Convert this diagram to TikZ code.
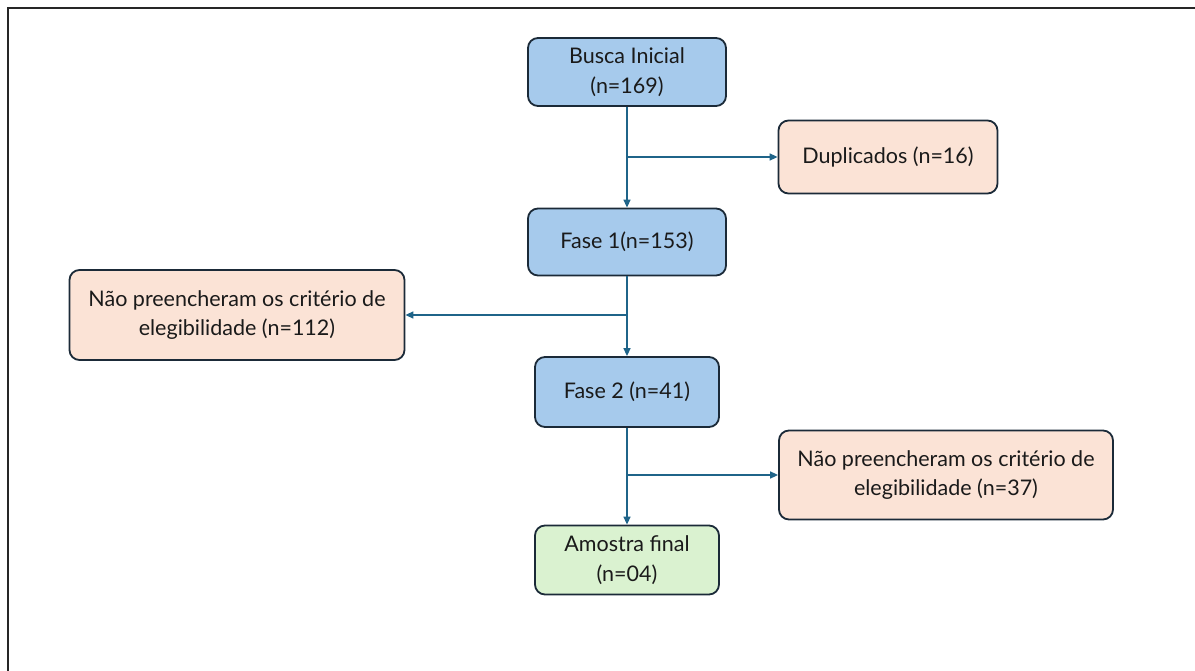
\documentclass[tikz,border=0pt]{standalone}
\usepackage{fontspec}
\setmainfont{Lato}
\usetikzlibrary{arrows.meta}
\definecolor{bluefill}{HTML}{A6CAEC}
\definecolor{peachfill}{HTML}{FBE3D6}
\definecolor{greenfill}{HTML}{DAF2D0}
\definecolor{edge}{HTML}{1B2A38}
\definecolor{flow}{HTML}{1F6489}
\definecolor{ink}{HTML}{1A1A1A}
\begin{document}
\begin{tikzpicture}[x=1pt,y=-1pt,
  box/.style={draw=edge, line width=1.8pt, rounded corners=10pt, align=center,
    text=ink, font=\fontsize{21.5}{29.5}\selectfont, inner sep=0pt},
  stage/.style={box, fill=bluefill},
  excl/.style={box, fill=peachfill},
  final/.style={box, fill=greenfill},
  flowline/.style={draw=flow, line width=1.5pt, -{Triangle[length=8pt,width=7pt]}}]
\useasboundingbox (0,0) rectangle (1195,671);
% partial frame along the top and left edges
\draw[line width=2pt, black!85] (1195,8) -- (8,8) -- (8,671);

% main flow
\node[stage, minimum width=198pt, minimum height=68pt] (busca) at (627,72) {Busca Inicial\\(n=169)};
\node[stage, minimum width=198pt, minimum height=67pt] (fase1) at (627,242) {Fase 1(n=153)};
\node[stage, minimum width=184pt, minimum height=70pt] (fase2) at (627,392) {Fase 2 (n=41)};
\node[final, minimum width=184pt, minimum height=69pt] (amostra) at (627,560) {Amostra final\\(n=04)};

% exclusions
\node[excl, minimum width=219pt, minimum height=73pt] (dup) at (888,157) {Duplicados (n=16)};
\node[excl, minimum width=335pt, minimum height=90pt] (elig1) at (237,315) {Não preencheram os critério de\\elegibilidade (n=112)};
\node[excl, minimum width=334pt, minimum height=89pt] (elig2) at (946,475) {Não preencheram os critério de\\elegibilidade (n=37)};

% connectors
\draw[flowline] (busca.south) -- (fase1.north);
\draw[flowline] (busca.south |- dup.west) -- (dup.west);
\draw[flowline] (fase1.south) -- (fase2.north);
\draw[flowline] (fase1.south |- elig1.east) -- (elig1.east);
\draw[flowline] (fase2.south) -- (amostra.north);
\draw[flowline] (fase2.south |- elig2.west) -- (elig2.west);
\end{tikzpicture}
\end{document}
